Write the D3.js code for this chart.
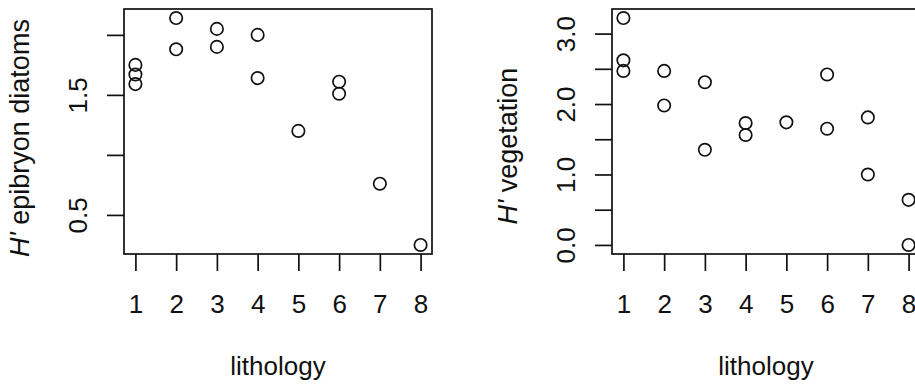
<!DOCTYPE html>
<html>
<head>
<meta charset="utf-8">
<script src="https://cdn.jsdelivr.net/npm/d3@7"></script>
<style>
  body { margin: 0; background: #fff; }
  svg { display: block; font-family: "Liberation Sans", Arial, sans-serif; }
  .tick text { font-size: 26px; fill: #111; }
  .axis-label { font-size: 26px; fill: #111; }
  .y-title { font-size: 27px; }
</style>
</head>
<body>
<svg width="915" height="384"></svg>
<script>
// lithology class of each sample
const lithology = [1, 1, 1, 2, 2, 3, 3, 4, 4, 5, 6, 6, 7, 8];
const diatomH = [1.75, 1.67, 1.59, 2.14, 1.88, 2.05, 1.90, 2.0, 1.64, 1.2, 1.61, 1.51, 0.76, 0.25];

const lithologyVeg = [1, 1, 1, 2, 2, 3, 3, 4, 4, 5, 6, 6, 7, 7, 8, 8];
const vegetationH = [3.22, 2.62, 2.47, 2.47, 1.98, 2.31, 1.35, 1.73, 1.56, 1.74, 2.42, 1.65, 1.81, 1.0, 0.64, 0.0];

const xTicks = [1, 2, 3, 4, 5, 6, 7, 8];
const diatomTicks = [0.5, 1.0, 1.5, 2.0];
const diatomLabels = ["0.5", "", "1.5", ""];
const vegTicks = [0, 0.5, 1.0, 1.5, 2.0, 2.5, 3.0];
const vegLabels = ["0.0", "", "1.0", "", "2.0", "", "3.0"];

const svg = d3.select("svg");
const plotTop = 9, plotBottom = 254;

// R style: extend the data range by 4% on each side
function pad(ext) {
  const d = (ext[1] - ext[0]) * 0.04;
  return [ext[0] - d, ext[1] + d];
}

function panel(left, right, xs, ys, ticks, labels, title, titleY) {
  const g = svg.append("g");
  const x = d3.scaleLinear().domain(pad(d3.extent(xs))).range([left, right]);
  const y = d3.scaleLinear().domain(pad(d3.extent(ys))).range([plotBottom, plotTop]);

  const xAxis = g.append("g")
    .attr("transform", `translate(0,${plotBottom})`)
    .call(d3.axisBottom(x).tickValues(xTicks).tickSize(17).tickFormat(d3.format("d")));
  xAxis.select(".domain").remove();
  xAxis.selectAll(".tick line").attr("stroke", "#111").attr("stroke-width", 1.7);
  xAxis.selectAll(".tick text").attr("y", 59).attr("dy", 0);

  const yAxis = g.append("g")
    .attr("transform", `translate(${left},0)`)
    .call(d3.axisLeft(y).tickValues(ticks).tickSize(17)
      .tickFormat((d, i) => labels[i]));
  yAxis.select(".domain").remove();
  yAxis.selectAll(".tick line").attr("stroke", "#111").attr("stroke-width", 1.7);
  yAxis.selectAll(".tick text")
    .attr("x", 0).attr("dy", 0)
    .attr("text-anchor", "middle")
    .attr("transform", "translate(-37,0) rotate(-90)");

  g.append("rect")
    .attr("x", left).attr("y", plotTop)
    .attr("width", right - left).attr("height", plotBottom - plotTop)
    .attr("fill", "none").attr("stroke", "#111").attr("stroke-width", 1.7);

  g.selectAll("circle")
    .data(xs.map((d, i) => [d, ys[i]]))
    .join("circle")
    .attr("cx", (d) => x(d[0]))
    .attr("cy", (d) => y(d[1]))
    .attr("r", 6.2)
    .attr("fill", "none")
    .attr("stroke", "#111")
    .attr("stroke-width", 1.7);

  g.append("text")
    .attr("class", "axis-label")
    .attr("x", (left + right) / 2)
    .attr("y", 375)
    .attr("text-anchor", "middle")
    .text("lithology");

  const t = g.append("text")
    .attr("class", "axis-label y-title")
    .attr("text-anchor", "middle")
    .attr("transform", `translate(${left - 95},${titleY}) rotate(-90)`);
  t.append("tspan").attr("font-style", "italic").text("H'");
  t.append("tspan").text(" " + title);
}

panel(124, 432, lithology, diatomH, diatomTicks, diatomLabels, "epibryon diatoms", 138);
panel(612, 920, lithologyVeg, vegetationH, vegTicks, vegLabels, "vegetation", 146);
</script>
</body>
</html>
